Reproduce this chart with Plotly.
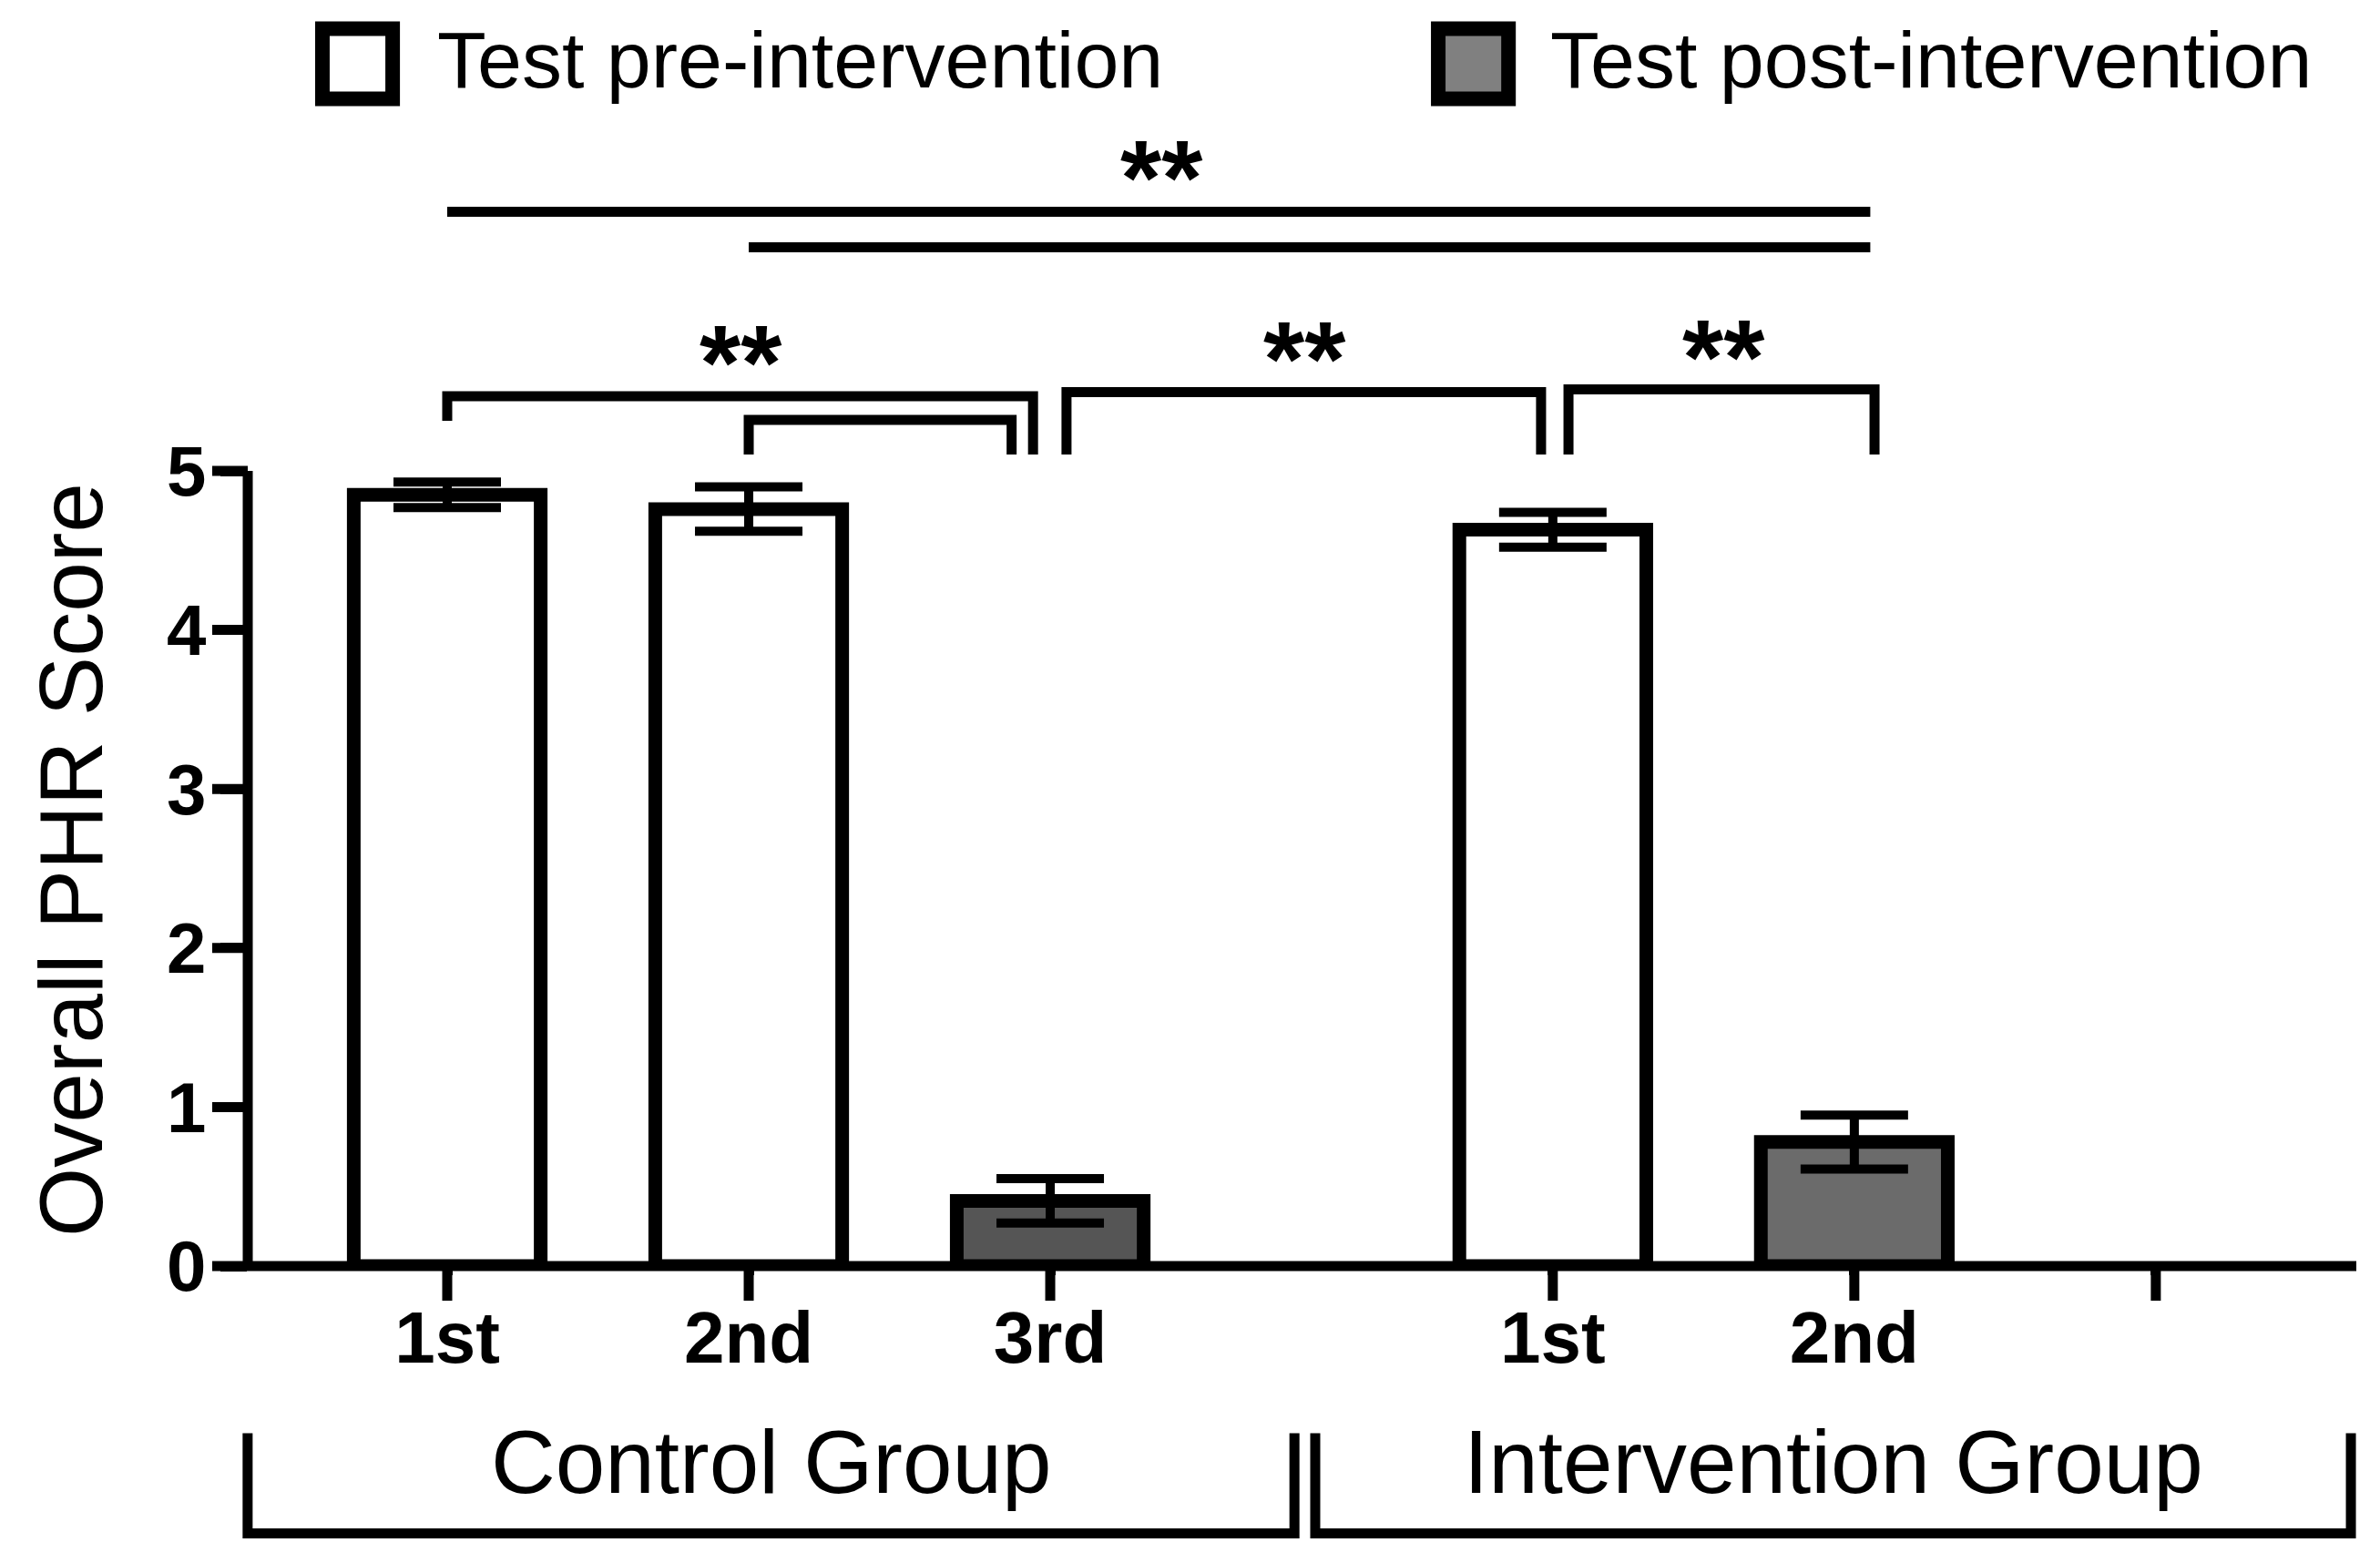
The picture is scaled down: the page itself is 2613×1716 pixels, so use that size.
import plotly.graph_objects as go

# ---------------- data ----------------
pre_x = [0, 1, 3.667]            # Control 1st, Control 2nd, Intervention 1st
pre_mean = [4.85, 4.76, 4.63]
pre_err = [0.08, 0.14, 0.11]

post_x = [2, 4.667]              # Control 3rd, Intervention 2nd
post_mean = [0.41, 0.78]
post_err = [0.14, 0.17]
post_colors = ["#555555", "#6b6b6b"]

tick_positions = [0, 1, 2, 3.667, 4.667, 5.667]
tick_labels = ["1st", "2nd", "3rd", "1st", "2nd", ""]
y_ticks = [0, 1, 2, 3, 4, 5]

group_names = ["Control Group", "Intervention Group"]
group_starts = [-0.662, 2.879]
group_ends = [2.81, 6.314]

series_names = ["Test pre-intervention", "Test post-intervention"]
sig_text = "**"

# ---------------- layout geometry ----------------
W, H = 2613, 1716
ML, MR, MT, MB = 272, 26, 517, 326
XMIN, XMAX = -0.6616, 6.332
YMIN, YMAX = 0, 5
FONT = "Liberation Sans, Arial, Helvetica, sans-serif"
LW = 11
XTICK_LEN, YTICK_LEN = 38, 39


def px(x):
    return (x - XMIN) / (XMAX - XMIN)


def py(y):
    return (y - YMIN) / (YMAX - YMIN)


def path(points):
    return "M " + " L ".join(f"{px(x):.5f},{py(y):.5f}" for x, y in points)


fig = go.Figure()
fig.add_trace(go.Bar(
    x=pre_x, y=pre_mean, width=0.62, name=series_names[0],
    marker=dict(color="white", line=dict(color="black", width=15)),
    error_y=dict(type="data", array=pre_err, visible=True, color="black",
                 thickness=10, width=59),
    showlegend=False,
))
fig.add_trace(go.Bar(
    x=post_x, y=post_mean, width=0.62, name=series_names[1],
    marker=dict(color=post_colors, line=dict(color="black", width=15)),
    error_y=dict(type="data", array=post_err, visible=True, color="black",
                 thickness=10, width=59),
    showlegend=False,
))

shapes = []
line_style = dict(color="black", width=LW)
# axis lines
shapes.append(dict(type="line", xref="paper", yref="paper", x0=0, x1=1, y0=0, y1=0,
                   line=line_style, layer="above"))
shapes.append(dict(type="line", xref="paper", yref="paper", x0=0, x1=0, y0=0, y1=1,
                   line=line_style, layer="above"))
# tick marks (full length)
for t in tick_positions:
    shapes.append(dict(type="line", xref="paper", yref="paper", ysizemode="pixel",
                       yanchor=0, x0=px(t), x1=px(t), y0=0, y1=-XTICK_LEN,
                       line=line_style, layer="above"))
for v in y_ticks:
    shapes.append(dict(type="line", xref="paper", yref="paper", xsizemode="pixel",
                       xanchor=0, x0=0, x1=-YTICK_LEN, y0=py(v), y1=py(v),
                       line=line_style, layer="above"))

# significance lines / brackets (data-unit geometry)
brackets = [
    [(0, 6.629), (4.72, 6.629)],
    [(1.0, 6.406), (4.72, 6.406)],
    [(0, 5.315), (0, 5.470), (1.943, 5.470), (1.943, 5.103)],
    [(1.0, 5.103), (1.0, 5.321), (1.872, 5.321), (1.872, 5.103)],
    [(2.054, 5.103), (2.054, 5.495), (3.628, 5.495), (3.628, 5.103)],
    [(3.719, 5.103), (3.719, 5.512), (4.734, 5.512), (4.734, 5.103)],
]
for b in brackets:
    shapes.append(dict(type="path", xref="paper", yref="paper", path=path(b),
                       line=line_style, layer="above"))

# group brackets below the axis
for x0, x1 in zip(group_starts, group_ends):
    shapes.append(dict(type="path", xref="paper", yref="paper",
                       path=path([(x0, -1.051), (x0, -1.681), (x1, -1.681), (x1, -1.051)]),
                       line=line_style, layer="above"))

# legend swatches
legend_boxes = [(-0.414, -0.181, "white"), (3.287, 3.520, "#808080")]
for x0, x1, col in legend_boxes:
    shapes.append(dict(type="rect", xref="paper", yref="paper",
                       x0=px(x0), x1=px(x1), y0=py(7.340), y1=py(7.781),
                       line=dict(color="black", width=16), fillcolor=col, layer="above"))

annotations = []
# stars
for sx, sy in [(2.369, 6.924), (0.973, 5.763), (2.843, 5.786), (4.233, 5.797)]:
    annotations.append(dict(text=sig_text, xref="paper", yref="paper",
                            x=px(sx), y=py(sy), xanchor="center", yanchor="middle",
                            yshift=-15, showarrow=False,
                            font=dict(family=FONT, size=116, color="black", weight="bold")))
# legend text
for tx, name in zip([-0.039, 3.653], series_names):
    annotations.append(dict(text=name, xref="paper", yref="paper", x=px(tx), y=py(7.585),
                            xanchor="left", yanchor="middle", showarrow=False,
                            font=dict(family=FONT, size=88, color="black")))
# group labels
for x0, x1, name in zip(group_starts, group_ends, group_names):
    annotations.append(dict(text=name, xref="paper", yref="paper", x=px((x0 + x1) / 2),
                            y=py(-1.229), xanchor="center", yanchor="middle", showarrow=False,
                            font=dict(family=FONT, size=98, color="black")))
# y-axis title
annotations.append(dict(text="Overall PHR Score", xref="paper", yref="paper",
                        x=px(-1.248), y=py(2.554), textangle=-90,
                        xanchor="center", yanchor="middle", showarrow=False,
                        font=dict(family=FONT, size=98, color="black")))

fig.update_layout(
    width=W, height=H,
    margin=dict(l=ML, r=MR, t=MT, b=MB, pad=0),
    paper_bgcolor="white", plot_bgcolor="white",
    barmode="overlay",
    showlegend=False,
    shapes=shapes, annotations=annotations,
    xaxis=dict(range=[XMIN, XMAX], showline=False, showgrid=False, zeroline=False,
               ticks="outside", ticklen=9, tickwidth=LW, tickcolor="black",
               tickvals=tick_positions, ticktext=tick_labels,
               tickfont=dict(family=FONT, size=80, color="black", weight="bold")),
    yaxis=dict(range=[YMIN, YMAX], showline=False, showgrid=False, zeroline=False,
               ticks="outside", ticklen=29, tickwidth=LW, tickcolor="black",
               tickvals=y_ticks,
               tickfont=dict(family=FONT, size=78, color="black", weight="bold")),
)

fig.write_html("out.html", config={"displayModeBar": False},
               post_script="document.body.style.margin='0px';")
